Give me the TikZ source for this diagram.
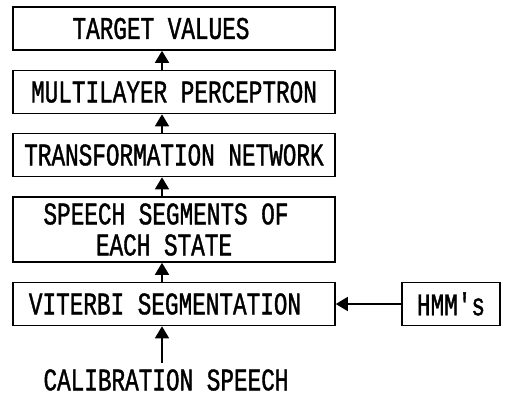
\documentclass[tikz,border=0pt]{standalone}
\usepackage{fontspec}
\setmonofont[FakeStretch=0.72,FakeBold=1.2]{Liberation Mono}
\usetikzlibrary{arrows.meta}
% pad after a line of text, moving it left by half the amount
\newcommand{\padr}[1]{\hspace*{#1}}
\begin{document}
\begin{tikzpicture}[x=1pt,y=-1pt,
  blk/.style={draw,line width=1.6pt,minimum height=#1,inner sep=0pt,align=center,
    font=\ttfamily\fontsize{31.5}{31}\selectfont},
  blk/.default=43pt,
  flow/.style={line width=1.6pt,-{Triangle[length=12pt,width=14pt]}},
  lbl/.style={font=\ttfamily\fontsize{31.5}{31}\selectfont,inner sep=1pt}]
\useasboundingbox (0,0) rectangle (515,397);
\node[blk,minimum width=322pt] (tv) at (174,28.5) {TARGET VALUES\padr{26pt}};
\node[blk,minimum width=322pt] (mlp) at (174,92) {MULTILAYER PERCEPTRON};
\node[blk,minimum width=322pt] (tn) at (174,155) {TRANSFORMATION NETWORK};
\node[blk=65pt,minimum width=322pt] (ss) at (174,229.5) {SPEECH SEGMENTS OF\padr{16pt}\\EACH STATE\padr{20pt}};
\node[blk,minimum width=322pt] (vs) at (174,304) {VITERBI SEGMENTATION\padr{18pt}};
\node[blk,minimum width=98pt] (hmm) at (451,304) {HMM's};
\node[lbl] (cal) at (166,380) {CALIBRATION SPEECH};
\coordinate (calTop) at (162,363);
\draw[flow] (mlp.north -| 162,0) -- (tv.south -| 162,0);
\draw[flow] (tn.north -| 162,0) -- (mlp.south -| 162,0);
\draw[flow] (ss.north -| 162,0) -- (tn.south -| 162,0);
\draw[flow] (vs.north -| 162,0) -- (ss.south -| 162,0);
\draw[flow] (calTop) -- (vs.south -| calTop);
\draw[flow] (hmm.west) -- (vs.east);
\end{tikzpicture}
\end{document}
